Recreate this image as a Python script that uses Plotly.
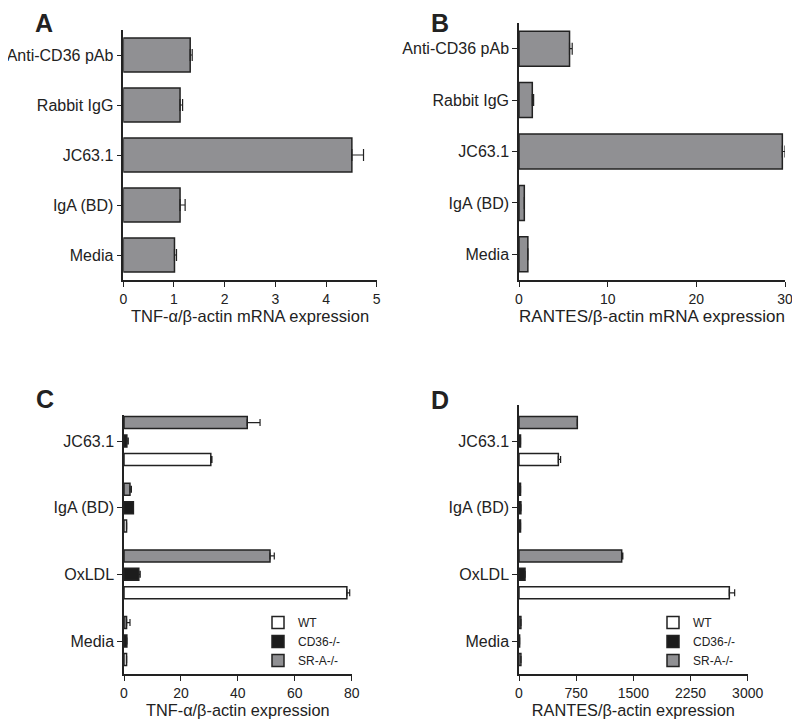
import plotly.graph_objects as go

# page body has an 8px margin; figure is sized so it fits the 800x727 window
OFF = 8
W, H = 792, 711

# ---------------- data ----------------
# Panels A & B (listed bottom -> top)
ab_categories = ["Media", "IgA (BD)", "JC63.1", "Rabbit IgG", "Anti-CD36 pAb"]
a_values = [1.01, 1.12, 4.51, 1.12, 1.32]
a_errors = [0.04, 0.10, 0.23, 0.05, 0.04]
b_values = [1.0, 0.6, 29.7, 1.5, 5.7]
b_errors = [0.0, 0.0, 0.3, 0.15, 0.3]

# Panels C & D (listed bottom -> top)
cd_categories = ["Media", "OxLDL", "IgA (BD)", "JC63.1"]
series_names = ["WT", "CD36-/-", "SR-A-/-"]
c_wt = [0.9, 78.3, 0.9, 30.5]
c_wt_err = [0.0, 1.0, 0.0, 0.4]
c_cd36 = [1.0, 5.2, 3.3, 1.0]
c_cd36_err = [0.0, 0.5, 0.0, 0.5]
c_sra = [0.9, 51.3, 2.1, 43.3]
c_sra_err = [1.2, 1.5, 0.5, 4.5]
d_wt = [25, 2759, 20, 516]
d_wt_err = [0, 70, 0, 30]
d_cd36 = [8, 79, 25, 20]
d_cd36_err = [0, 0, 0, 0]
d_sra = [25, 1347, 20, 765]
d_sra_err = [0, 15, 0, 0]

a_ticks = [0, 1, 2, 3, 4, 5]
b_ticks = [0, 10, 20, 30]
c_ticks = [0, 20, 40, 60, 80]
d_ticks = [0, 750, 1500, 2250, 3000]

# ---------------- style ----------------
INK = "#222222"
GRAY = "#909093"
BLACK = "#1c1c1c"
WHITE = "#ffffff"
FONT = "Liberation Sans, Arial, Helvetica, sans-serif"
series_colors = [WHITE, BLACK, GRAY]


def px_x(a, b):
    return [(a - OFF) / W, (b - OFF) / W]


def px_y(top, bottom):
    return [1 - (bottom - OFF) / H, 1 - (top - OFF) / H]


def pos_x(a):
    return (a - OFF) / W


def pos_y(b):
    return 1 - (b - OFF) / H


fig = go.Figure()


def add_single(values, errors, xa, ya):
    fig.add_trace(go.Bar(
        y=ab_categories, x=values, orientation="h",
        width=0.68,
        marker=dict(color=GRAY, line=dict(color=INK, width=1.5)),
        error_x=dict(type="data", symmetric=False, array=errors,
                     arrayminus=[0] * len(errors), color=INK,
                     thickness=1.2, width=6),
        xaxis=xa, yaxis=ya, showlegend=False,
    ))


add_single(a_values, a_errors, "x", "y")
add_single(b_values, b_errors, "x2", "y2")


def add_group(vals, errs, xa, ya, legend, showlegend):
    for name, v, e, col in zip(series_names, vals, errs, series_colors):
        fig.add_trace(go.Bar(
            y=cd_categories, x=v, orientation="h", name=name,
            marker=dict(color=col, line=dict(color=INK, width=1.5)),
            error_x=dict(type="data", symmetric=False, array=e,
                         arrayminus=[0] * len(e), color=INK,
                         thickness=1.2, width=3.5),
            xaxis=xa, yaxis=ya, legend=legend, showlegend=showlegend,
        ))


add_group([c_wt, c_cd36, c_sra], [c_wt_err, c_cd36_err, c_sra_err],
          "x3", "y3", "legend", True)
add_group([d_wt, d_cd36, d_sra], [d_wt_err, d_cd36_err, d_sra_err],
          "x4", "y4", "legend2", True)

axis_common = dict(
    showline=True, linecolor=INK, linewidth=1.5,
    ticks="outside", ticklen=5, tickwidth=1.3, tickcolor=INK,
    showgrid=False, zeroline=False, automargin=False,
    tickfont=dict(family=FONT, size=14, color=INK),
)
yaxis_common = dict(axis_common, tickfont=dict(family=FONT, size=16, color=INK),
                    type="category")


def tfont(size):
    return dict(family=FONT, size=size, color=INK)


fig.update_layout(
    width=W, height=H,
    margin=dict(l=0, r=0, t=0, b=0),
    paper_bgcolor="white", plot_bgcolor="white",
    barmode="group", bargap=0.17, bargroupgap=0.35,
    font=dict(family=FONT, color=INK),
    xaxis=dict(axis_common, domain=px_x(123.3, 376.7), range=[0, 5],
               tickvals=a_ticks, anchor="y",
               title=dict(text="TNF-α/β-actin mRNA expression",
                          font=tfont(16.5), standoff=3)),
    yaxis=dict(yaxis_common, domain=px_y(30, 280), anchor="x",
               categoryorder="array", categoryarray=ab_categories,
               range=[-0.5, 4.5]),
    xaxis2=dict(axis_common, domain=px_x(519, 785), range=[0, 30],
                tickvals=b_ticks, anchor="y2",
                title=dict(text="RANTES/β-actin mRNA expression",
                           font=tfont(17), standoff=3)),
    yaxis2=dict(yaxis_common, domain=px_y(23, 280), anchor="x2",
                categoryorder="array", categoryarray=ab_categories,
                range=[-0.5, 4.5]),
    xaxis3=dict(axis_common, domain=px_x(124, 351.7), range=[0, 80],
                tickvals=c_ticks, anchor="y3",
                title=dict(text="TNF-α/β-actin expression",
                           font=tfont(16.3), standoff=3)),
    yaxis3=dict(yaxis_common, domain=px_y(415, 674), anchor="x3",
                categoryorder="array", categoryarray=cd_categories,
                range=[-0.495, 3.39]),
    xaxis4=dict(axis_common, domain=px_x(519, 747.7), range=[0, 3000],
                tickvals=d_ticks, anchor="y4",
                title=dict(text="RANTES/β-actin expression",
                           font=tfont(16.3), standoff=3)),
    yaxis4=dict(yaxis_common, domain=px_y(405, 674), anchor="x4",
                categoryorder="array", categoryarray=cd_categories,
                range=[-0.495, 3.54]),
    legend=dict(x=pos_x(258), y=pos_y(608), xanchor="left", yanchor="top",
                font=dict(family=FONT, size=12, color=INK),
                bgcolor="rgba(0,0,0,0)", tracegroupgap=0,
                traceorder="normal"),
    legend2=dict(x=pos_x(653), y=pos_y(608), xanchor="left", yanchor="top",
                 font=dict(family=FONT, size=12, color=INK),
                 bgcolor="rgba(0,0,0,0)", tracegroupgap=0,
                 traceorder="normal"),
)

for label, cx, ytop in [("A", 44, 8), ("B", 440, 8), ("C", 44.5, 384), ("D", 440, 385)]:
    fig.add_annotation(text="<b>%s</b>" % label, x=pos_x(cx), y=pos_y(ytop),
                       xref="paper", yref="paper", showarrow=False,
                       xanchor="center", yanchor="top", borderpad=0,
                       font=dict(family=FONT, size=25, color=INK))

fig.write_html("out.html")
